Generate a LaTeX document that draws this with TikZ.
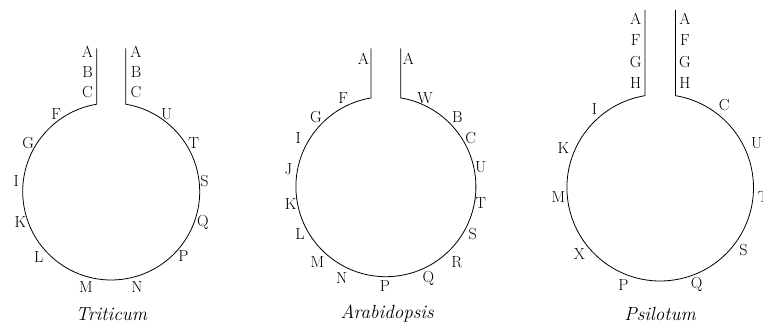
\documentclass[tikz,border=0pt]{standalone}
\usetikzlibrary{calc}
\tikzset{
  lab/.style={font=\fontsize{16}{18}\selectfont, inner sep=0pt, text height=10.9pt, text depth=0pt, anchor=center},
  captext/.style={font=\fontsize{19}{22}\selectfont\itshape, inner sep=0pt, anchor=base},
  loopline/.style={draw=black, line width=0.8pt, line join=miter}
}
% #1 name, #2 cx, #3 cy, #4 r, #5 half gap, #6 stem top
\newcommand\stemloop[6]{%
  \pgfmathsetmacro\dd{asin(#5/#4)}%
  \pgfmathsetmacro\yb{#3+#4*cos(\dd)}%
  \coordinate (#1-c) at (#2,#3);
  \coordinate (#1-tl) at ({#2-#5},#6);
  \coordinate (#1-tr) at ({#2+#5},#6);
  \coordinate (#1-bl) at ({#2-#5},\yb);
  \draw[loopline] (#1-tl) -- (#1-bl) arc[start angle={90+\dd}, end angle={450-\dd}, radius=#4] -- (#1-tr);
}
\begin{document}
\begin{tikzpicture}[x=1pt,y=1pt]
\useasboundingbox (0,0) rectangle (763,324);

% ---------------- Triticum ----------------
\stemloop{tri}{111.2}{132.5}{88.5}{14.5}{275.7}
\node[lab] (tri-a1) at (87.5,271.5) {A};
\node[lab] (tri-b1) at (87.5,251.5) {B};
\node[lab] (tri-c1) at (87.5,232) {C};
\node[lab] (tri-a2) at (136,271.5) {A};
\node[lab] (tri-b2) at (136,251.5) {B};
\node[lab] (tri-c2) at (136,232) {C};
\node[lab] (tri-f) at (56.3,209.5) {F};
\node[lab] (tri-g) at (28.3,181) {G};
\node[lab] (tri-i) at (16.2,143) {I};
\node[lab] (tri-k) at (20.3,102.3) {K};
\node[lab] (tri-l) at (38.7,67) {L};
\node[lab] (tri-m) at (86,37) {M};
\node[lab] (tri-n) at (137,37) {N};
\node[lab] (tri-p) at (183.3,67.7) {P};
\node[lab] (tri-q) at (203,103.3) {Q};
\node[lab] (tri-s) at (204.5,143) {S};
\node[lab] (tri-t) at (193.8,181) {T};
\node[lab] (tri-u) at (166.7,210.3) {U};
\node[captext] (tri-name) at (111.5,4) {Triticum};

% ---------------- Arabidopsis ----------------
\stemloop{ara}{385.9}{137.3}{90}{14.85}{275.7}
\node[lab] (ara-a1) at (363.3,264.7) {A};
\node[lab] (ara-a2) at (408.3,264.7) {A};
\node[lab] (ara-f) at (343.3,225.7) {F};
\node[lab] (ara-g) at (316,206.7) {G};
\node[lab] (ara-i) at (298.3,185.7) {I};
\node[lab] (ara-j) at (288.3,154.7) {J};
\node[lab] (ara-k) at (290.7,120) {K};
\node[lab] (ara-l) at (300,89.8) {L};
\node[lab] (ara-m) at (317.3,62.3) {M};
\node[lab] (ara-n) at (341.7,45.7) {N};
\node[lab] (ara-p) at (385,38) {P};
\node[lab] (ara-q) at (428.3,46.7) {Q};
\node[lab] (ara-r) at (456.7,62.3) {R};
\node[lab] (ara-s) at (472.7,89.8) {S};
\node[lab] (ara-t) at (480.7,121) {T};
\node[lab] (ara-u) at (480.7,156.7) {U};
\node[lab] (ara-c) at (470.7,185.7) {C};
\node[lab] (ara-b) at (457.3,206.7) {B};
\node[lab] (ara-w) at (425,225.7) {W};
\node[captext] (ara-name) at (387.2,5.7) {Arabidopsis};

% ---------------- Psilotum ----------------
\stemloop{psi}{660.2}{136.3}{93.3}{15.2}{314}
\node[lab] (psi-a1) at (635.7,305) {A};
\node[lab] (psi-f1) at (635.7,283.7) {F};
\node[lab] (psi-g1) at (635.7,262) {G};
\node[lab] (psi-h1) at (635.7,241) {H};
\node[lab] (psi-a2) at (685,305) {A};
\node[lab] (psi-f2) at (685,283.7) {F};
\node[lab] (psi-g2) at (685,262) {G};
\node[lab] (psi-h2) at (685,241) {H};
\node[lab] (psi-i) at (594.5,215) {I};
\node[lab] (psi-k) at (563.3,175.5) {K};
\node[lab] (psi-m) at (558.5,126.8) {M};
\node[lab] (psi-x) at (579.3,70.3) {X};
\node[lab] (psi-p) at (623.3,39) {P};
\node[lab] (psi-q) at (696.7,40.7) {Q};
\node[lab] (psi-s) at (743.5,74) {S};
\node[lab] (psi-t) at (763.5,126.5) {T};
\node[lab] (psi-u) at (756.7,180.5) {U};
\node[lab] (psi-c) at (724.2,218.5) {C};
\node[captext] (psi-name) at (660,3.3) {Psilotum};
\end{tikzpicture}
\end{document}
